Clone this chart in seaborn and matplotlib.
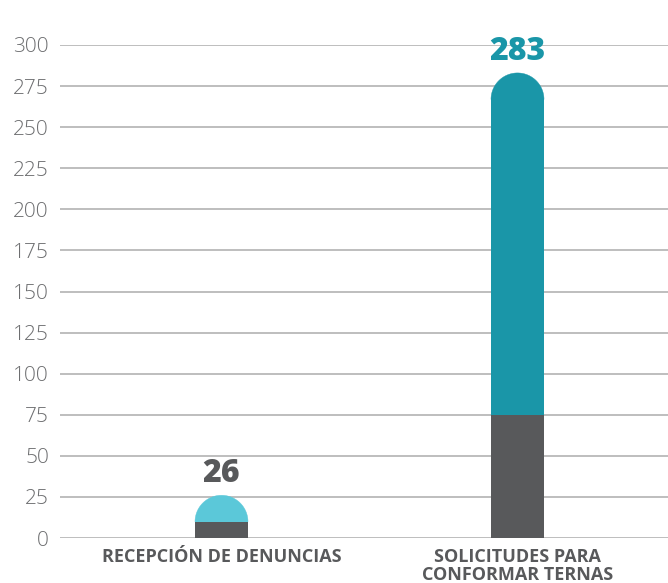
import numpy as np
import pandas as pd
import matplotlib
matplotlib.use("Agg")
import matplotlib.pyplot as plt
from matplotlib.patches import Polygon
import seaborn as sns

categories = ["RECEPCIÓN DE DENUNCIAS", "SOLICITUDES PARA\nCONFORMAR TERNAS"]
totals = [26, 283]
base_values = [10, 75]
top_colors = ["#5bc8d9", "#1a96a8"]
label_colors = ["#58595b", "#1a96a8"]
base_color = "#58595b"
yticks = [0, 25, 50, 75, 100, 125, 150, 175, 200, 225, 250, 275, 300]

sns.set_theme(style="white")
plt.rcParams["font.family"] = ["Open Sans", "DejaVu Sans"]

df = pd.DataFrame({"cat": categories, "total": totals, "base": base_values})

W, H = 668, 583
fig = plt.figure(figsize=(W / 100, H / 100), dpi=100)
ax = fig.add_axes([60 / W, (H - 538) / H, 608 / W, 493 / H])

bar_w = 53 / 296
sns.barplot(data=df, x="cat", y="total", hue="cat", palette=top_colors,
            width=bar_w, legend=False, ax=ax, zorder=3, saturation=1,
            linewidth=0, edgecolor="none")
n_top = len(ax.patches)
sns.barplot(data=df, x="cat", y="base", color=base_color,
            width=bar_w, ax=ax, zorder=4, saturation=1,
            linewidth=0, edgecolor="none")

ax.set_ylim(0, 300)
ax.set_xlim(-161.5 / 296, -161.5 / 296 + 608 / 296)

# round off the top of each coloured bar with a half-circle cap
fig.canvas.draw()
px_per_unit = ax.bbox.height / 300
top_patches = ax.patches[:n_top]
for p, total, col in zip(top_patches, totals, top_colors):
    x0 = p.get_x()
    w = p.get_width()
    cx = x0 + w / 2
    r_px = w / 2 * ax.bbox.width / (ax.get_xlim()[1] - ax.get_xlim()[0])
    ry = r_px / px_per_unit
    p.set_height(total - ry + 0.5)
    t = np.linspace(0, np.pi, 90)
    pts = np.column_stack([cx + (w / 2) * np.cos(t), (total - ry) + ry * np.sin(t)])
    ax.add_patch(Polygon(pts, closed=True, facecolor=col, edgecolor=col,
                         linewidth=0.3, zorder=3))

for i, (total, col) in enumerate(zip(totals, label_colors)):
    ax.text(i, total + 8, f"{total}", ha="center", va="baseline", fontsize=23,
            fontweight="heavy", color=col, clip_on=False)

ax.set_yticks(yticks)
ax.set_yticklabels([str(v) for v in yticks], fontsize=15, color="#6d6e70",
                   fontweight="light")
ax.set_xticks(range(len(categories)))
ax.set_xticklabels(categories, fontsize=13, fontweight="bold", color="#58595b",
                   linespacing=1.0)
ax.tick_params(axis="y", length=0, pad=8)
ax.tick_params(axis="x", length=0, pad=7)
ax.set_xlabel("")
ax.set_ylabel("")
ax.grid(axis="y", color="#b9b9b9", linewidth=1.3, zorder=0)
ax.set_axisbelow(True)
sns.despine(ax=ax, left=True, bottom=True, top=True, right=True)

fig.savefig("out.png", dpi=100)
